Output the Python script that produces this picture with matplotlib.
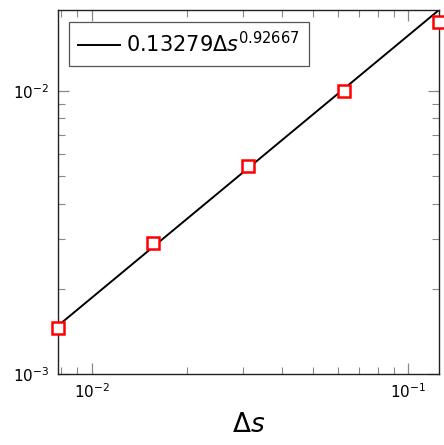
import numpy as np
import matplotlib
matplotlib.use("Agg")
import matplotlib.pyplot as plt

plt.rcParams['mathtext.fontset'] = 'dejavusans'
plt.rcParams['font.family'] = ['DejaVu Sans']

# data
ds = [0.0078125, 0.015625, 0.03125, 0.0625, 0.125]
err = [1.454e-3, 2.90e-3, 5.43e-3, 1.0e-2, 1.753e-2]
fit_coef = 0.13279
fit_exp = 0.92667

fig = plt.figure(figsize=(4.44, 4.45), dpi=100)
ax = fig.add_axes([0.1306, 0.1596, 0.8581, 0.8179])

xl = np.array([ds[0], ds[-1]])
ax.plot(xl, fit_coef * xl ** fit_exp, color='black', lw=1.4,
        label=r'$0.13279\Delta s^{0.92667}$', zorder=2)
ax.plot(ds, err, linestyle='none', marker='s', markersize=8.5,
        markerfacecolor='white', markeredgecolor='red', markeredgewidth=1.8,
        zorder=3, clip_on=False)

ax.set_xscale('log')
ax.set_yscale('log')
ax.set_xlim(ds[0], ds[-1])
ax.set_ylim(1e-3, fit_coef * ds[-1] ** fit_exp)

ax.tick_params(which='both', direction='in', top=True, right=True,
               color='#888888', labelsize=11, pad=6)
ax.tick_params(which='major', length=8, width=0.9)
ax.tick_params(which='minor', length=5, width=0.8)
ax.yaxis.set_minor_formatter(matplotlib.ticker.NullFormatter())
ax.xaxis.set_minor_formatter(matplotlib.ticker.NullFormatter())

for s in ax.spines.values():
    s.set_color('#222222')
    s.set_linewidth(1.0)

ax.set_xlabel(r'$\Delta s$', fontsize=19, labelpad=8)

leg = ax.legend(loc='upper left', fontsize=15, fancybox=False,
                edgecolor='#555555', framealpha=1, handlelength=2.0,
                borderpad=0.45, handletextpad=0.3, borderaxespad=0,
                bbox_to_anchor=(0.029, 0.967))
leg.get_frame().set_linewidth(0.9)

fig.savefig('out.png', dpi=100)
